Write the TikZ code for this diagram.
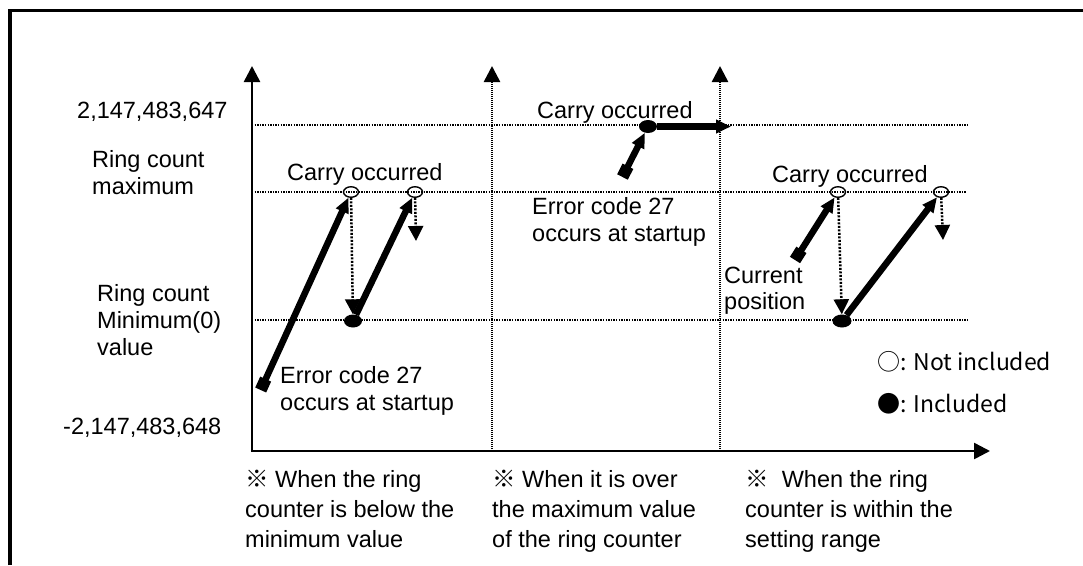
\documentclass[tikz,border=0pt]{standalone}
\usepackage{fontspec}
\setmainfont{Liberation Sans}
\newfontfamily\cjk{Noto Sans CJK KR}
\usetikzlibrary{arrows.meta,shapes.geometric}
\begin{document}
\begin{tikzpicture}[x=1pt,y=-1pt,
  lbl/.style={anchor=base west, inner sep=0pt, font=\fontsize{23.5}{27}\selectfont},
  leg/.style={anchor=base west, inner sep=0pt, font=\cjk\fontsize{23}{27}\selectfont},
  axisline/.style={line width=2.5pt, -{Triangle[length=16pt,width=16pt]}},
  daxis/.style={line width=2.5pt, dash pattern=on 1.2pt off 0.8pt, -{Triangle[length=16pt,width=16pt]}},
  gridline/.style={line width=1.6pt, dash pattern=on 1.4pt off 1.2pt},
  bigarrow/.style={line width=6.5pt, -{Triangle[length=15pt,width=13pt]}},
  startsq/.style={{Square[length=12pt,width=12pt]}-{Triangle[length=15pt,width=13pt]}},
  dotarrow/.style={line width=2.5pt, dash pattern=on 2pt off 1.5pt, -{Triangle[length=15pt,width=15pt]}},
  openpt/.style={ellipse, draw, line width=1.4pt, minimum width=15pt, minimum height=10.5pt, inner sep=0pt},
  fillpt/.style={ellipse, fill, minimum width=18pt, minimum height=13pt, inner sep=0pt},
]
\useasboundingbox (0,0) rectangle (1083,565);
% frame
\draw[line width=3.5pt] (10,565) -- (10,10.5) -- (1083,10.5);

% grid lines
\coordinate (g1a) at (252,125); \coordinate (g1b) at (968,125);
\coordinate (g2a) at (252,192); \coordinate (g2b) at (966,192);
\coordinate (g3a) at (252,320); \coordinate (g3b) at (968,320);
\draw[gridline] (g1a) -- (g1b);
\draw[gridline] (g2a) -- (g2b);
\draw[gridline] (g3a) -- (g3b);

% axes
\coordinate (orig) at (252,451);
\coordinate (ytop) at (252,66);
\coordinate (xend) at (990,451);
\coordinate (d1b) at (492,451); \coordinate (d1t) at (492,66);
\coordinate (d2b) at (720,451); \coordinate (d2t) at (720,66);
\draw[daxis] (d1b) -- (d1t);
\draw[daxis] (d2b) -- (d2t);
\draw[axisline] (orig) -- (ytop);
\draw[axisline] ([xshift=-1.25pt]orig) -- (xend);

% left panel
\coordinate (sq1) at (260.7,390);
\node[openpt] (o1) at (351,192) {};
\node[fillpt] (f1) at (353,321) {};
\node[openpt] (o2) at (415,192) {};
\coordinate (e1) at (416,241);
\draw[bigarrow,startsq] (sq1) -- (o1);
\draw[dotarrow] (o1) -- (f1);
\draw[bigarrow] (f1) -- (o2);
\draw[dotarrow] (o2) -- (e1);

% middle panel
\coordinate (sq2) at (622.5,177);
\node[fillpt] (f2) at (648,126.5) {};
\coordinate (e2) at (731,126.5);
\draw[bigarrow,startsq] (sq2) -- (f2);
\draw[bigarrow] (f2) -- (e2);

% right panel
\coordinate (sq3) at (795,260);
\node[openpt] (o3) at (838,192) {};
\node[fillpt, minimum width=19pt] (f3) at (842,321) {};
\node[openpt] (o4) at (941,192) {};
\coordinate (e3) at (943,240);
\draw[bigarrow,startsq] (sq3) -- (o3);
\draw[dotarrow] (o3) -- (f3);
\draw[bigarrow] (f3) -- (o4);
\draw[dotarrow] (o4) -- (e3);

% left labels
\node[lbl] (vmax) at (77,118) {2,147,483,647};
\node[lbl] (rcm1) at (92,167) {Ring count};
\node[lbl] (rcm2) at (92,194) {maximum};
\node[lbl] (rcn1) at (97,301) {Ring count};
\node[lbl] (rcn2) at (97,328) {Minimum(0)};
\node[lbl] (rcn3) at (97,355) {value};
\node[lbl] (vmin) at (63,434) {-2,147,483,648};

% in-plot labels
\node[lbl] (c1) at (287,180) {Carry occurred};
\node[lbl] (c2) at (537,118) {Carry occurred};
\node[lbl] (c3) at (772,182) {Carry occurred};
\node[lbl] (er1a) at (280,383) {Error code 27};
\node[lbl] (er1b) at (280,410) {occurs at startup};
\node[lbl] (er2a) at (532,214) {Error code 27};
\node[lbl] (er2b) at (532,241) {occurs at startup};
\node[lbl] (cur1) at (724,283) {Current};
\node[lbl] (cur2) at (724,309) {position};

% legend
\node[leg] (leg1) at (877,370) {○: Not included};
\node[leg] (leg2) at (877,412) {●: Included};

% captions
\node[lbl] (ca1) at (245,487) {{\cjk ※} When the ring};
\node[lbl] (ca2) at (245,517) {counter is below the};
\node[lbl] (ca3) at (245,547) {minimum value};
\node[lbl] (cb1) at (492,487) {{\cjk ※} When it is over};
\node[lbl] (cb2) at (492,517) {the maximum value};
\node[lbl] (cb3) at (492,547) {of the ring counter};
\node[lbl] (cc1) at (745,487) {{\cjk ※}\ \ When the ring};
\node[lbl] (cc2) at (745,517) {counter is within the};
\node[lbl] (cc3) at (745,547) {setting range};
\end{tikzpicture}
\end{document}
